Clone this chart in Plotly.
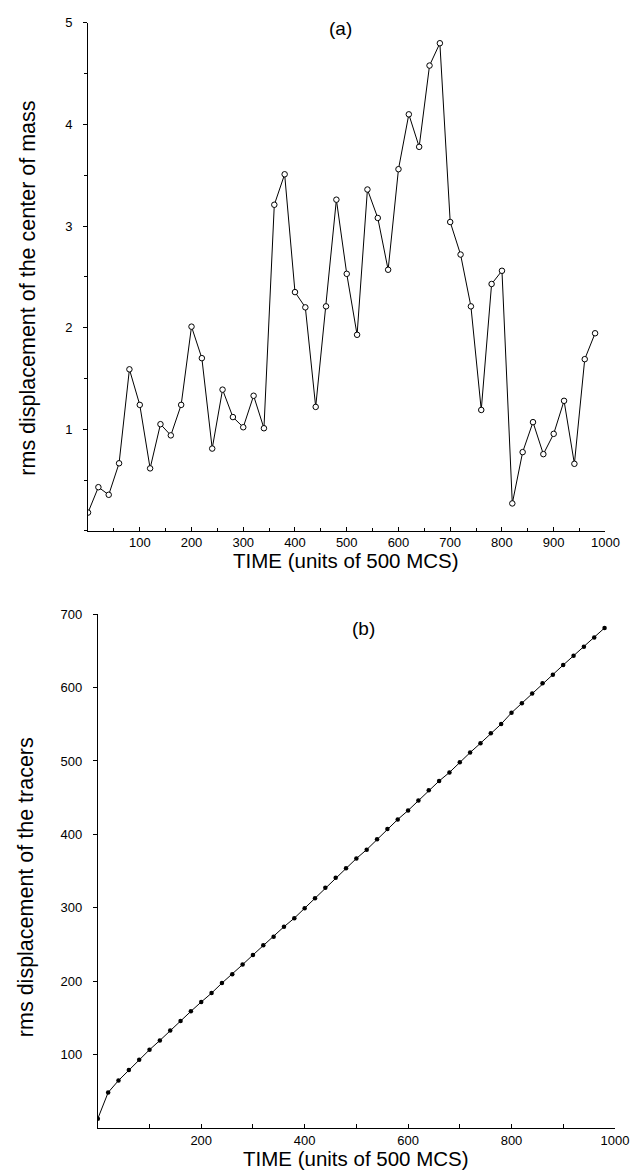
import plotly.graph_objects as go

# ---- data: panel (a) ----
time_a = list(range(0, 1000, 20))
cm_disp = [0.18, 0.43, 0.355, 0.665, 1.59, 1.24, 0.615, 1.05, 0.94, 1.24,
           2.01, 1.70, 0.81, 1.39, 1.12, 1.02, 1.33, 1.01, 3.21, 3.51,
           2.35, 2.20, 1.22, 2.21, 3.26, 2.53, 1.93, 3.36, 3.08, 2.57,
           3.56, 4.10, 3.78, 4.58, 4.80, 3.04, 2.72, 2.21, 1.19, 2.43,
           2.56, 0.27, 0.775, 1.07, 0.755, 0.955, 1.28, 0.66, 1.69, 1.945]

# ---- data: panel (b) ----
time_b = list(range(0, 1000, 20))
tracer_disp = [13.1, 48.7, 65.0, 79.4, 93.4, 106.9, 119.5, 133.0, 146.1, 159.2,
               171.9, 184.0, 197.6, 209.7, 222.8, 235.9, 249.0, 260.7, 274.3, 286.0,
               299.5, 313.0, 327.5, 341.0, 354.0, 367.2, 379.3, 393.3, 407.3, 420.4,
               432.6, 446.1, 460.1, 472.7, 484.4, 498.4, 511.5, 524.1, 537.6, 550.3,
               565.6, 578.7, 591.8, 605.8, 617.5, 630.6, 643.2, 655.4, 668.0, 681.1]

ticks_a_x = [100, 200, 300, 400, 500, 600, 700, 800, 900, 1000]
ticks_a_y = [1, 2, 3, 4, 5]
ticks_b_x = [200, 400, 600, 800, 1000]
ticks_b_y = [100, 200, 300, 400, 500, 600, 700]

W, H = 639, 1173
def px(x):
    return x / W
def py(y):
    return 1 - y / H

TICKFONT = dict(family="Liberation Sans, Arial, sans-serif", size=13, color="black")
XTITLEFONT = dict(family="Liberation Sans, Arial, sans-serif", size=20.5, color="black")
YTITLEFONT = dict(family="Liberation Sans, Arial, sans-serif", size=21.5, color="black")

fig = go.Figure()
fig.add_trace(go.Scatter(
    x=time_a, y=cm_disp, mode="lines+markers",
    line=dict(color="black", width=1),
    marker=dict(symbol="circle", size=5.5, color="white", line=dict(color="black", width=1)),
    xaxis="x", yaxis="y", showlegend=False))
fig.add_trace(go.Scatter(
    x=time_b, y=tracer_disp, mode="lines+markers",
    line=dict(color="black", width=1),
    marker=dict(symbol="circle", size=4.5, color="black"),
    xaxis="x2", yaxis="y2", showlegend=False))

axis_common = dict(showline=True, linecolor="black", linewidth=1, showgrid=False,
                   zeroline=False, tickfont=TICKFONT, tickcolor="black", tickwidth=1)

fig.update_layout(
    width=W, height=H,
    margin=dict(l=0, r=0, t=0, b=0),
    paper_bgcolor="white", plot_bgcolor="white",
    xaxis=dict(domain=[px(90), px(619)], range=[0, 1000], anchor="y",
               tickvals=ticks_a_x, ticks="inside", ticklen=4,
               minor=dict(dtick=50, tick0=0, ticks="inside", ticklen=3, tickcolor="black"),
               **axis_common),
    yaxis=dict(domain=[py(527), py(16)], range=[0, 5], anchor="x",
               tickvals=ticks_a_y, ticks="outside", ticklen=4, ticklabelstandoff=8,
               minor=dict(dtick=0.5, tick0=0, ticks="outside", ticklen=3, tickcolor="black"),
               **axis_common),
    xaxis2=dict(domain=[px(100), px(628.7)], range=[0, 1000], anchor="y2",
                tickvals=ticks_b_x, ticks="inside", ticklen=4,
                minor=dict(dtick=100, tick0=0, ticks="inside", ticklen=4, tickcolor="black"),
                **axis_common),
    yaxis2=dict(domain=[py(1128), py(610.7)], range=[0, 700], anchor="x2",
                tickvals=ticks_b_y, ticks="outside", ticklen=4, ticklabelstandoff=8,
                **axis_common),
)

annots = [
    dict(text="(a)", x=px(348), y=py(22), font=dict(family="Liberation Sans, Arial", size=19, color="black")),
    dict(text="(b)", x=px(372), y=py(625), font=dict(family="Liberation Sans, Arial", size=19, color="black")),
    dict(text="TIME (units of 500 MCS)", x=px(354), y=py(557), font=XTITLEFONT),
    dict(text="TIME (units of 500 MCS)", x=px(364), y=py(1158), font=XTITLEFONT),
    dict(text="rms displacement of the center of mass", x=px(29), y=py(283), textangle=-90, font=YTITLEFONT),
    dict(text="rms displacement of the tracers", x=px(26), y=py(885), textangle=-90, font=YTITLEFONT),
]
for a in annots:
    fig.add_annotation(xref="paper", yref="paper", showarrow=False,
                       xanchor="center", yanchor="middle", **a)

fig.write_html("out.html",
               config={"displayModeBar": False},
               post_script="document.body.style.margin='0';document.body.style.overflow='hidden';")
